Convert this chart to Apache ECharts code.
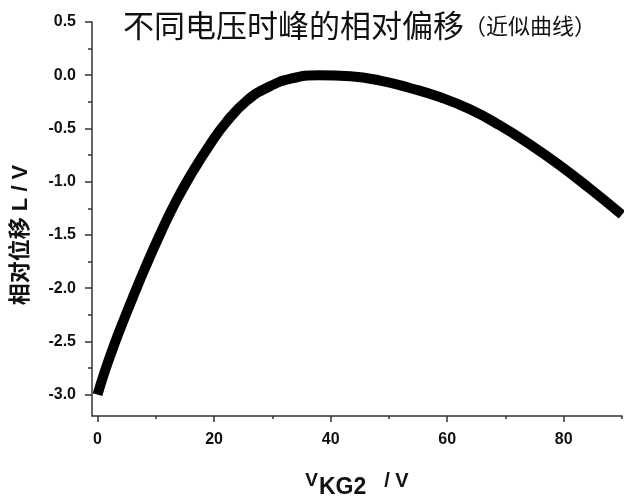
<!DOCTYPE html>
<html>
<head>
<meta charset="utf-8">
<script src="https://cdn.jsdelivr.net/npm/echarts@6/dist/echarts.min.js"></script>
<style>
  html, body { margin: 0; padding: 0; background: #fff; }
  #myChart { width: 624px; height: 498px; }
</style>
</head>
<body>
<div id="myChart"></div>
<script>
// 读图得到的曲线点 (V_KG2, 相对位移)
var vkg2 = [0, 1.25, 3, 4.7, 6.4, 8, 10.5, 13.4, 16.5, 19.3, 22.1, 25.6, 29, 33, 38, 43.4, 48.5, 53.6, 58.7, 63.9, 69, 74.2, 79.3, 84.5, 90];
var shift = [-3.0, -2.78, -2.51, -2.27, -2.04, -1.83, -1.52, -1.19, -0.89, -0.65, -0.44, -0.24, -0.12, -0.035, 0.0, -0.01, -0.05, -0.12, -0.205, -0.32, -0.47, -0.65, -0.845, -1.065, -1.31];
var xLabels = [0, 20, 40, 60, 80];
var xMinor = [10, 30, 50, 70, 90];
var yLabels = [-3.0, -2.5, -2.0, -1.5, -1.0, -0.5, 0.0, 0.5];
var yMinor = [-2.75, -2.25, -1.75, -1.25, -0.75, -0.25, 0.25];

var fontEn = "'Liberation Sans', 'Noto Sans CJK SC', sans-serif";
var axisColor = "#333";

var data = vkg2.map(function (v, i) { return [v, shift[i]]; });

var myChart = echarts.init(document.getElementById("myChart"));
myChart.setOption({
  animation: false,
  title: {
    text: "{a|不同电压时峰的相对偏移}{b|（近似曲线）}",
    left: 118,
    top: 5,
    textStyle: {
      fontWeight: "normal",
      rich: {
        a: { fontSize: 31, fontWeight: "normal", color: "#111", fontFamily: "'Noto Sans CJK SC'" },
        b: { fontSize: 22, fontWeight: "normal", color: "#111", fontFamily: "'Noto Sans CJK SC'" }
      }
    }
  },
  grid: {
    left: 92,
    right: 2,
    top: 22,
    bottom: 82,
    outerBoundsMode: "none"
  },
  xAxis: [
    {
      type: "value",
      min: -0.95,
      max: 90,
      name: "{v|V}{s|KG2}{g|/ V}",
      nameLocation: "middle",
      nameGap: 55,
      nameTextStyle: {
        rich: {
          v: { fontSize: 19, fontWeight: "bold", color: "#111", fontFamily: fontEn, verticalAlign: "top", lineHeight: 28 },
          s: { fontSize: 23, fontWeight: "bold", color: "#111", fontFamily: fontEn, verticalAlign: "bottom", lineHeight: 28, padding: [0, 18, 0, 1] },
          g: { fontSize: 20, fontWeight: "bold", color: "#111", fontFamily: fontEn, verticalAlign: "top", lineHeight: 28 }
        }
      },
      splitLine: { show: false },
      axisLine: { onZero: false, lineStyle: { color: axisColor, width: 1.5 } },
      axisTick: { customValues: xLabels, length: 6, lineStyle: { color: axisColor, width: 1.5 } },
      axisLabel: {
        customValues: xLabels,
        margin: 16,
        fontSize: 16,
        fontWeight: "bold",
        color: "#111",
        fontFamily: fontEn
      }
    },
    {
      type: "value",
      position: "bottom",
      min: -0.95,
      max: 90,
      splitLine: { show: false },
      axisLine: { show: false, onZero: false },
      axisTick: { customValues: xMinor, length: 3, lineStyle: { color: axisColor, width: 1.5 } },
      axisLabel: { show: false }
    }
  ],
  yAxis: [
    {
      type: "value",
      min: -3.2,
      max: 0.5,
      name: "相对位移 L / V",
      nameLocation: "middle",
      nameRotate: 90,
      nameGap: 60,
      nameTextStyle: {
        fontSize: 22,
        fontWeight: "bold",
        color: "#111",
        fontFamily: fontEn,
        padding: [0, 32, 0, 0]
      },
      splitLine: { show: false },
      axisLine: { show: true, onZero: false, lineStyle: { color: axisColor, width: 1.5 } },
      axisTick: { show: true, customValues: yLabels, length: 7, lineStyle: { color: axisColor, width: 1.5 } },
      axisLabel: {
        customValues: yLabels,
        margin: 16,
        fontSize: 16,
        fontWeight: "bold",
        color: "#111",
        fontFamily: fontEn,
        formatter: function (v) { return v.toFixed(1); }
      }
    },
    {
      type: "value",
      position: "left",
      min: -3.2,
      max: 0.5,
      splitLine: { show: false },
      axisLine: { show: false, onZero: false },
      axisTick: { show: true, customValues: yMinor, length: 4, lineStyle: { color: axisColor, width: 1.5 } },
      axisLabel: { show: false }
    }
  ],
  series: [
    {
      name: "相对偏移",
      type: "line",
      smooth: 0.5,
      showSymbol: false,
      lineStyle: { color: "#000", width: 10 },
      data: data
    }
  ]
});
</script>
</body>
</html>
